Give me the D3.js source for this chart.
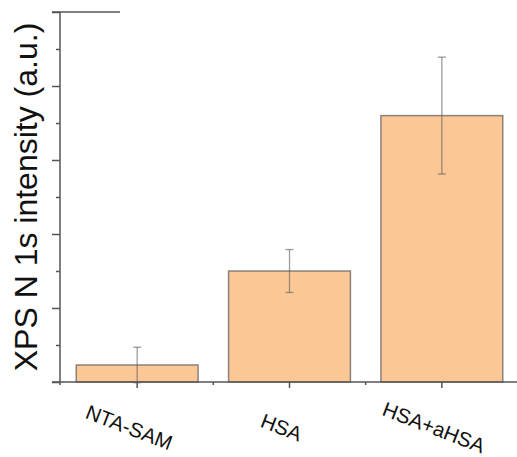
<!DOCTYPE html>
<html>
<head>
<meta charset="utf-8">
<script src="https://cdn.jsdelivr.net/npm/d3@7"></script>
<style>
  html, body { margin: 0; padding: 0; background: #fff; }
  svg { display: block; }
</style>
</head>
<body>
<svg id="chart" width="517" height="457"></svg>
<script>
// Sample groups and measured N 1s intensities (arbitrary units)
const categories = ["NTA-SAM", "HSA", "HSA+aHSA"];
const intensity = [0.23, 1.5, 3.6];
const errors = [0.24, 0.29, 0.79];
const yMajorTicks = [0, 1, 2, 3, 4, 5];
const yMinorTicks = [0.5, 1.5, 2.5, 3.5, 4.5];

const svg = d3.select("#chart");
const axisColor = "#555";
const font = "'Liberation Sans', Arial, sans-serif";

const x = d3.scaleBand()
  .domain(categories)
  .range([61, 518])
  .paddingInner(0.2)
  .paddingOuter(0.1);

const y = d3.scaleLinear().domain([0, 5]).range([382, 12]);

// bars
svg.append("g").selectAll("rect")
  .data(categories)
  .join("rect")
  .attr("x", d => x(d))
  .attr("y", (d, i) => y(intensity[i]))
  .attr("width", x.bandwidth())
  .attr("height", (d, i) => y(0) - y(intensity[i]))
  .attr("fill", "#fbc795")
  .attr("stroke", "rgba(90,90,90,0.7)")
  .attr("stroke-width", 1.5);

// error bars
const eg = svg.append("g")
  .attr("stroke", "rgba(90,90,90,0.6)")
  .attr("stroke-width", 1.3);
categories.forEach((c, i) => {
  const cx = x(c) + x.bandwidth() / 2;
  const hi = y(intensity[i] + errors[i]);
  const lo = y(intensity[i] - errors[i]);
  eg.append("line").attr("x1", cx).attr("x2", cx).attr("y1", hi).attr("y2", lo);
  eg.append("line").attr("x1", cx - 4).attr("x2", cx + 4).attr("y1", hi).attr("y2", hi);
  eg.append("line").attr("x1", cx - 4).attr("x2", cx + 4).attr("y1", lo).attr("y2", lo);
});

// y axis with major and minor ticks
const yAxis = svg.append("g").attr("transform", "translate(60,0)");
yAxis.call(d3.axisLeft(y).tickValues(yMajorTicks).tickSize(8).tickFormat(""));
yAxis.append("g").call(d3.axisLeft(y).tickValues(yMinorTicks).tickSize(4).tickFormat(""))
  .select(".domain").remove();
yAxis.selectAll(".domain").attr("d", `M0,${y(5)}V${y(0) + 3}`);
yAxis.selectAll("line, path").attr("stroke", axisColor).attr("stroke-width", 1.5);

// x axis: major ticks at group centres, minor ticks between groups
const xAxis = svg.append("g").attr("transform", `translate(0,${y(0)})`);
xAxis.append("line").attr("x1", 52).attr("x2", 517).attr("y1", 0).attr("y2", 0);
categories.forEach(c => {
  const cx = x(c) + x.bandwidth() / 2;
  xAxis.append("line").attr("x1", cx).attr("x2", cx).attr("y1", 0).attr("y2", 6);
});
categories.slice(1).forEach(c => {
  const bx = x(c) - x.step() * x.paddingInner() / 2;
  xAxis.append("line").attr("x1", bx).attr("x2", bx).attr("y1", 0).attr("y2", 3);
});
xAxis.selectAll("line").attr("stroke", axisColor).attr("stroke-width", 1.5);

// short top rule at the axis head
svg.append("line").attr("x1", 52).attr("x2", 120).attr("y1", y(5)).attr("y2", y(5))
  .attr("stroke", axisColor).attr("stroke-width", 1.5);

// category labels, tilted
svg.append("g").selectAll("text")
  .data(categories)
  .join("text")
  .attr("transform", d => `translate(${x(d) + x.bandwidth() / 2 - 8},427) rotate(21)`)
  .attr("text-anchor", "middle")
  .attr("dominant-baseline", "central")
  .attr("font-family", font)
  .attr("font-size", 20.5)
  .attr("fill", "#111")
  .text(d => d);

// y axis title
svg.append("text")
  .attr("transform", "translate(37,197) rotate(-90)")
  .attr("text-anchor", "middle")
  .attr("font-family", font)
  .attr("font-size", 32)
  .attr("fill", "#111")
  .text("XPS N 1s intensity (a.u.)");
</script>
</body>
</html>
